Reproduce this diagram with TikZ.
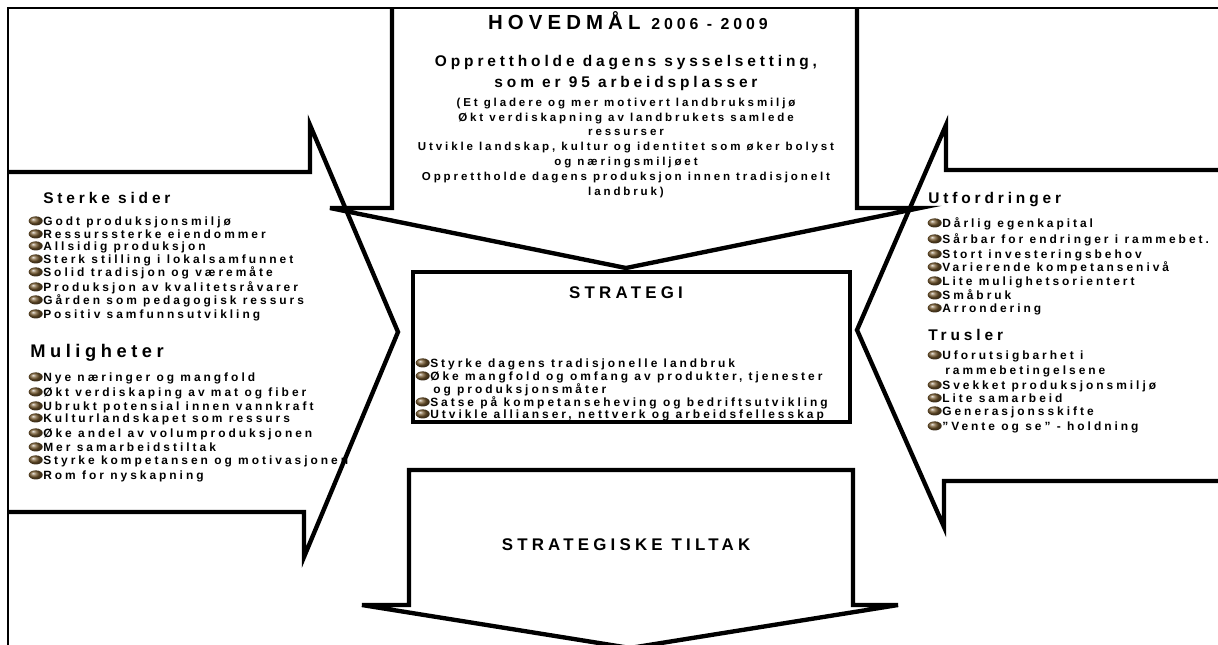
\documentclass[tikz,border=0pt]{standalone}
\usepackage{fontspec}
\setmainfont{Liberation Sans}
\newfontfamily\wide[LetterSpace=25]{Liberation Sans}
\usepackage{tikz}
\usetikzlibrary{shapes.geometric}
\definecolor{bronze}{RGB}{118,90,48}
\tikzstyle{arw} = [line width=3.1pt, line join=miter]
\tikzstyle{frame} = [line width=1.8pt]
\tikzstyle{bul} = [ellipse, shade, ball color=bronze, minimum width=10pt, minimum height=6.5pt, inner sep=0pt]
\tikzstyle{item} = [anchor=base west, inner sep=0pt, text height=1.1ex, text depth=0pt, font=\wide\bfseries\fontsize{8.5}{10}\selectfont, label distance=2.5pt, label={[bul]left:{}}]
\tikzstyle{itemx} = [anchor=base west, inner sep=0pt, font=\wide\bfseries\fontsize{8.5}{10}\selectfont]
\tikzstyle{head} = [anchor=base west, inner sep=0pt, font=\wide\bfseries\fontsize{11}{13}\selectfont]
\tikzstyle{goal} = [anchor=base, inner sep=0pt, font=\wide\bfseries\fontsize{11}{13}\selectfont]
\tikzstyle{goalsm} = [anchor=base, inner sep=0pt, font=\wide\bfseries\fontsize{8.2}{10}\selectfont]

\begin{document}
\begin{tikzpicture}[x=0.025cm,y=-0.025cm]
\useasboundingbox (0,0) rectangle (1218,645);
\begin{scope}
\clip (0,0) rectangle (1218,645);
%% frame and arrows
\draw[frame] (8,645) -- (8,8) -- (1218,8);
\draw[arw] (392,8) -- (392,208) -- (330,208) -- (626,268) -- (920,208) -- (857,208) -- (857,8);
\draw[arw] (8,172) -- (310,172) -- (310,125) -- (398,332) -- (304,557) -- (304,512) -- (8,512);
\draw[arw] (1225,170) -- (946,170) -- (946,125) -- (857,330) -- (944,527) -- (944,481) -- (1225,481);
\draw[arw] (409,605) -- (409,470) -- (853,470) -- (853,605) -- (898,605) -- (630,648) -- (362,605) -- cycle;
\draw[arw] (413,272) rectangle (850,422);
%% top goal
\node[goal] (title) at (628,29) {\fontsize{14.5}{17}\selectfont HOVEDMÅL \fontsize{11.3}{13}\selectfont 2006 - 2009};
\node[goal] (g1) at (626,66) {Opprettholde dagens sysselsetting,};
\node[goal] (g2) at (626,87) {som er 95 arbeidsplasser};
\node[goalsm] (g3) at (626,106) {(Et gladere og mer motivert landbruksmiljø};
\node[goalsm] (g4) at (626,121) {Økt verdiskapning av landbrukets samlede};
\node[goalsm] (g5) at (626,135.5) {ressurser};
\node[goalsm] (g6) at (626,150.5) {Utvikle landskap, kultur og identitet som øker bolyst};
\node[goalsm] (g7) at (626,165) {og næringsmiljøet};
\node[goalsm] (g8) at (626,180.5) {Opprettholde dagens produksjon innen tradisjonelt};
\node[goalsm] (g9) at (626,195) {landbruk)};
%% left side
\node[head] (sterke) at (43,203) {Sterke sider};
\node[item] (s1) at (43,225) {Godt produksjonsmiljø};
\node[item] (s2) at (43,238) {Ressurssterke eiendommer};
\node[item] (s3) at (43,250) {Allsidig produksjon};
\node[item] (s4) at (43,263) {Sterk stilling i lokalsamfunnet};
\node[item] (s5) at (43,276) {Solid tradisjon og væremåte};
\node[item] (s6) at (43,291) {Produksjon av kvalitetsråvarer};
\node[item] (s7) at (43,304) {Gården som pedagogisk ressurs};
\node[item] (s8) at (43,318) {Positiv samfunnsutvikling};
\node[head, font=\wide\bfseries\fontsize{13}{15}\selectfont] (muligheter) at (30,357) {Muligheter};
\node[item] (m1) at (43,381) {Nye næringer og mangfold};
\node[item] (m2) at (43,396) {Økt verdiskaping av mat og fiber};
\node[item] (m3) at (43,410) {Ubrukt potensial innen vannkraft};
\node[item] (m4) at (43,422) {Kulturlandskapet som ressurs};
\node[item] (m5) at (43,437) {Øke andel av volumproduksjonen};
\node[item] (m6) at (43,451) {Mer samarbeidstiltak};
\node[item] (m7) at (43,464) {Styrke kompetansen og motivasjonen};
\node[item] (m8) at (43,479) {Rom for nyskapning};
%% strategy
\node[goal, font=\wide\bfseries\fontsize{12}{14}\selectfont] (strategi) at (626,298) {STRATEGI};
\node[item] (t1) at (430,367) {Styrke dagens tradisjonelle landbruk};
\node[item] (t2) at (430,380) {Øke mangfold og omfang av produkter, tjenester};
\node[itemx] (t2b) at (433,393) {og produksjonsmåter};
\node[item] (t3) at (430,406) {Satse på kompetanseheving og bedriftsutvikling};
\node[item] (t4) at (430,418) {Utvikle allianser, nettverk og arbeidsfellesskap};
%% right side
\node[head] (utford) at (928,203) {Utfordringer};
\node[item] (u1) at (942,227) {Dårlig egenkapital};
\node[item] (u2) at (942,243) {Sårbar for endringer i rammebet.};
\node[item] (u3) at (942,258) {Stort investeringsbehov};
\node[item] (u4) at (942,271) {Varierende kompetansenivå};
\node[item] (u5) at (942,285) {Lite mulighetsorientert};
\node[item] (u6) at (942,299) {Småbruk};
\node[item] (u7) at (942,312) {Arrondering};
\node[head] (trusler) at (928,340) {Trusler};
\node[item] (r1) at (942,359) {Uforutsigbarhet i};
\node[itemx] (r1b) at (945,374) {rammebetingelsene};
\node[item] (r2) at (942,389) {Svekket produksjonsmiljø};
\node[item] (r3) at (942,402) {Lite samarbeid};
\node[item] (r4) at (942,415) {Generasjonsskifte};
\node[item] (r5) at (942,430) {”Vente og se” - holdning};
%% bottom
\node[goal, font=\wide\bfseries\fontsize{12}{14}\selectfont] (tiltak) at (626,550) {STRATEGISKE TILTAK};
\end{scope}
\end{tikzpicture}
\end{document}
